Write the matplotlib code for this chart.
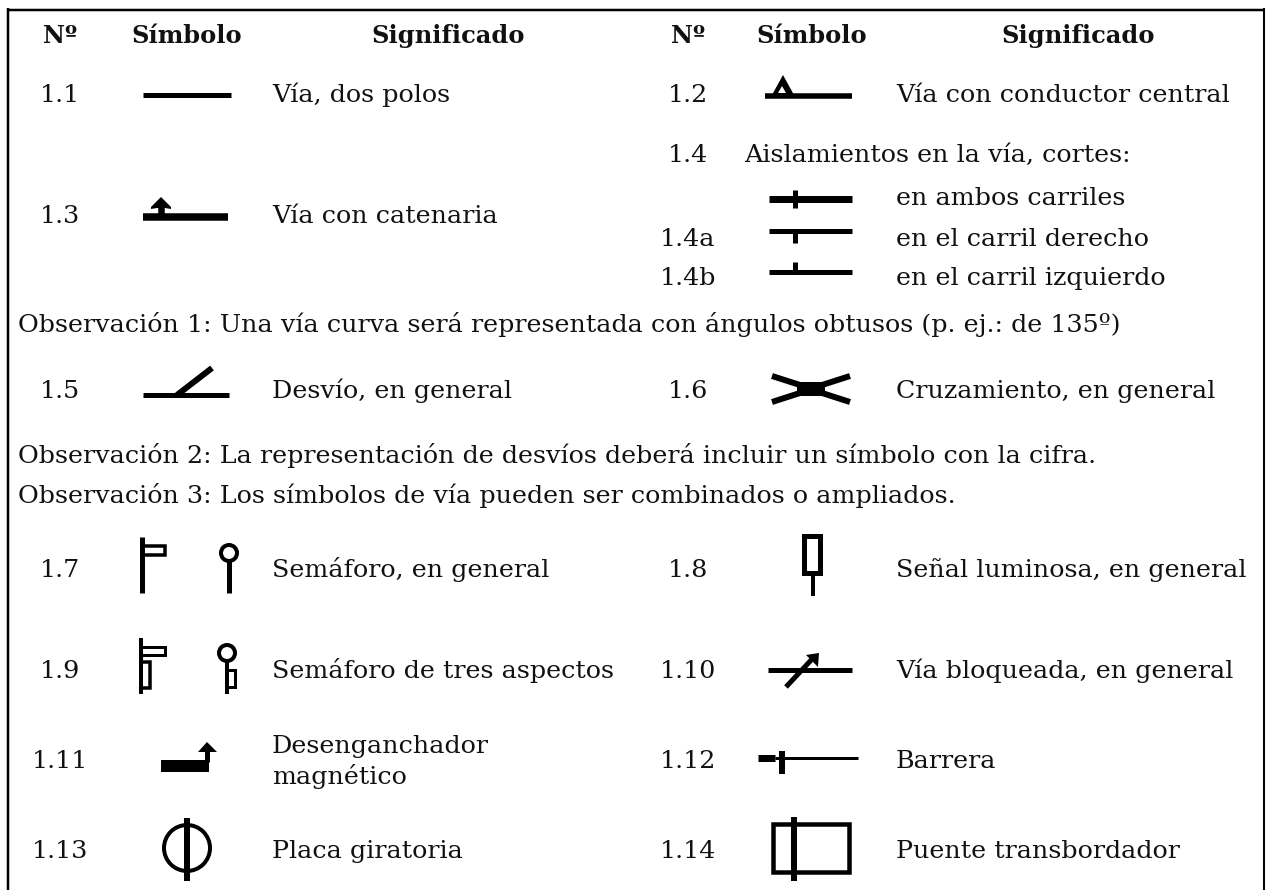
import matplotlib
matplotlib.use("Agg")
import matplotlib.pyplot as plt
from matplotlib.patches import Circle, Rectangle, Polygon

headers = ["Nº", "Símbolo", "Significado"]
left_numbers = ["1.1", "1.3", "1.5", "1.7", "1.9", "1.11", "1.13"]
left_meanings = ["Vía, dos polos", "Vía con catenaria", "Desvío, en general",
                 "Semáforo, en general", "Semáforo de tres aspectos",
                 "Desenganchador\nmagnético", "Placa giratoria"]
right_numbers = ["1.2", "1.6", "1.8", "1.10", "1.12", "1.14"]
right_meanings = ["Vía con conductor central", "Cruzamiento, en general",
                  "Señal luminosa, en general", "Vía bloqueada, en general",
                  "Barrera", "Puente transbordador"]
sub_numbers = ["1.4", "", "1.4a", "1.4b"]
sub_meanings = ["Aislamientos en la vía, cortes:", "en ambos carriles",
                "en el carril derecho", "en el carril izquierdo"]
notes = ["Observación 1: Una vía curva será representada con ángulos obtusos (p. ej.: de 135º)",
         "Observación 2: La representación de desvíos deberá incluir un símbolo con la cifra.",
         "Observación 3: Los símbolos de vía pueden ser combinados o ampliados."]

FONT = "DejaVu Serif"
BODY = 18.3
NOTE = 18.3
HEAD = 17.4
INK = "#000000"
TXT = "#111111"

fig = plt.figure(figsize=(12.65, 8.9), dpi=100)
ax = fig.add_axes([0, 0, 1, 1])
ax.set_xlim(0, 1265)
ax.set_ylim(890, 0)
ax.axis("off")


def ln(x0, y0, x1, y1, w, color=INK):
    ax.plot([x0, x1], [y0, y1], color=color, lw=w * 0.72, solid_capstyle="butt")


def box(x0, y0, x1, y1, w):
    ax.add_patch(Rectangle((x0, y0), x1 - x0, y1 - y0, fill=False, ec=INK, lw=w * 0.72,
                           joinstyle="miter"))


def ring(x, y, r, w):
    ax.add_patch(Circle((x, y), r, fill=False, ec=INK, lw=w * 0.72))


def poly(pts, fc=INK):
    ax.add_patch(Polygon(pts, closed=True, fc=fc, ec="none"))


def t(x, y, s, ha="left", bold=False, size=BODY):
    for i, part in enumerate(s.split("\n")):
        ax.text(x, y + i * 31, part, ha=ha, va="baseline", family=FONT, fontsize=size,
                fontweight="bold" if bold else "normal", color=TXT)


# frame
ln(7.5, 9.5, 1264, 9.5, 2.5)
ln(7.5, 8, 7.5, 890, 2.5)
ln(1264, 8, 1264, 890, 2)

# headers
for xs in ((60, 187, 448), (688, 812, 1078)):
    for x, h in zip(xs, headers):
        t(x, 43, h, ha="center", bold=True, size=HEAD)

# rows (text baselines)
left_y = [102, 223, 398, 577, 678, 768, 858]
right_y = [102, 398, 577, 678, 768, 858]
left_mean_y = [102, 223, 398, 577, 678, 753, 858]
for n, m, y, my in zip(left_numbers, left_meanings, left_y, left_mean_y):
    t(60, y, n, ha="center")
    t(272, my, m)
for n, m, y in zip(right_numbers, right_meanings, right_y):
    t(688, y, n, ha="center")
    t(896, y, m)

sub_y = [162, 205, 246, 285]
for i, (n, m, y) in enumerate(zip(sub_numbers, sub_meanings, sub_y)):
    if n:
        t(688, y, n, ha="center")
    t(744 if i == 0 else 896, y, m)

for s, y in zip(notes, [332, 463, 503]):
    t(18, y, s, size=NOTE)

# 1.1
ln(143, 95, 231, 95, 5)
# 1.2
ln(765, 96, 852, 96, 5.5)
poly([(783, 75), (794, 95), (772, 95)])
poly([(782, 86), (786, 93), (778, 93)], fc="white")
# 1.3
ln(143, 217, 228, 217, 7.5)
ln(161, 203, 161, 217, 6.5)
poly([(161, 197), (171, 207), (171, 209), (165, 208), (157, 208), (151, 209), (151, 207)])
# 1.4
ln(769, 199, 852, 199, 7)
ln(795, 190, 795, 208, 5)
ln(769, 231, 852, 231, 5)
ln(795, 231, 795, 243, 5)
ln(769, 272, 852, 272, 5)
ln(795, 262, 795, 272, 5)
# 1.5
ln(143, 395, 229, 395, 5)
ln(177, 395, 212, 368, 6)
# 1.6
poly([(797, 382), (825, 382), (825, 396), (797, 396)])
ln(772, 376, 800, 385, 6)
ln(850, 376, 822, 385, 6)
ln(772, 402, 800, 393, 6)
ln(850, 402, 822, 393, 6)
# 1.7
ln(142, 537, 142, 593, 5)
box(142, 546, 165, 554.5, 3.5)
ring(229, 553, 8, 4)
ln(229, 561, 229, 593, 5)
# 1.8
box(804, 536, 820, 573, 5)
ln(813, 573, 813, 596, 4)
# 1.9
ln(141, 638, 141, 694, 4)
box(141, 647, 165, 655, 3)
box(141, 662, 150, 688, 3.5)
ring(227, 653, 8, 4)
ln(227, 661, 227, 694, 4)
box(227, 670, 235, 687, 3)
# 1.10
ln(768, 670, 852, 670, 5)
ln(786, 687, 814, 657, 5)
poly([(819, 653), (818, 667), (806, 655)])
# 1.11
poly([(161, 760), (209, 760), (209, 772), (161, 772)])
ln(207, 748, 207, 762, 5)
poly([(207, 742), (217, 752), (198, 752)])
# 1.12
ln(758, 758, 775, 758, 7)
ln(775, 758, 858, 758, 3)
ln(782, 751, 782, 774, 6)
# 1.13
ring(187, 848, 23, 4)
ln(187, 818, 187, 881, 6)
# 1.14
box(773, 824, 849, 872, 4.5)
ln(794, 817, 794, 881, 6)

fig.savefig("out.png", dpi=100, facecolor="white")
